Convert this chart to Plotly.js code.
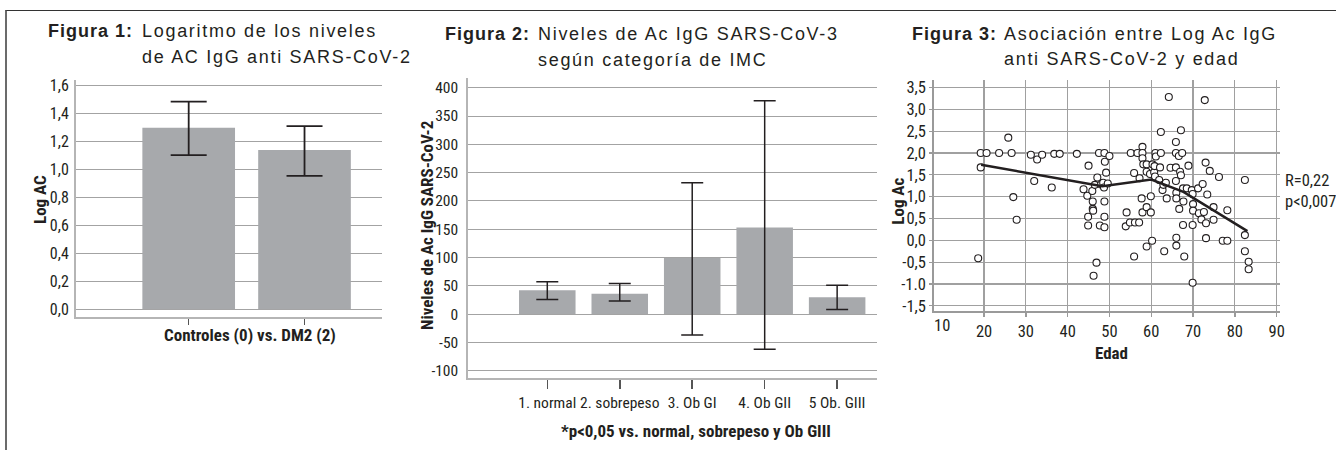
<!DOCTYPE html>
<html><head><meta charset="utf-8">
<script src="https://cdn.plot.ly/plotly-3.0.1.min.js"></script>
<style>
html,body{margin:0;padding:0;background:#fff;}
#wrap{position:relative;width:1336px;height:450px;overflow:hidden;}
#chart{position:absolute;left:0;top:0;width:1336px;height:450px;}
#frame{position:absolute;left:5px;top:10px;right:-10px;bottom:-10px;border-left:2px solid #6b6b6b;border-top:1.5px solid #333;pointer-events:none;}
</style></head>
<body><div id="wrap"><div id="chart"></div><div id="frame"></div></div>
<script>
// ---------- Figure 1 data ----------
const fig1Categories = ['Controles (0)', 'DM2 (2)'];
const fig1Values = [1.295, 1.136];
const fig1ErrPlus = [0.186, 0.171];
const fig1ErrMinus = [0.195, 0.184];
const fig1TickVals = [0, 0.2, 0.4, 0.6, 0.8, 1.0, 1.2, 1.4, 1.6];
const fig1TickText = ['0,0', '0,2', '0,4', '0,6', '0,8', '1,0', '1,2', '1,4', '1,6'];

// ---------- Figure 2 data ----------
const fig2Categories = ['1. normal', '2. sobrepeso', '3. Ob GI', '4. Ob GII', '5 Ob. GIII'];
const fig2Values = [42, 36, 99, 153, 30];
const fig2ErrPlus = [15, 18, 133, 224, 21];
const fig2ErrMinus = [16, 13, 136, 215, 22];
const fig2TickVals = [-100, -50, 0, 50, 100, 150, 200, 250, 300, 350, 400];
const fig2TickText = ['-100', '-50', '0', '50', '100', '150', '200', '250', '300', '350', '400'];

// ---------- Figure 3 data ----------
const fig3Age = [18.6,19.2,19.2,20.6,23.6,25.8,26.6,27.0,27.8,31.2,32.0,32.7,33.9,36.2,36.8,38.1,42.2,43.8,44.7,45.0,44.9,44.9,45.9,46.0,46.0,46.1,46.2,46.5,46.9,47.1,47.5,47.7,48.0,48.5,48.7,48.8,48.9,48.8,48.8,48.8,49.2,49.6,50.0,53.9,54.1,54.9,55.1,55.9,55.9,56.1,56.7,57.1,57.2,57.7,57.9,57.9,57.9,57.9,58.1,58.9,58.9,58.9,58.9,59.7,59.9,59.9,60.2,60.3,60.7,60.8,60.9,61.0,61.1,61.9,62.1,62.3,62.3,62.7,62.9,63.1,63.5,63.7,64.2,64.6,65.9,65.9,65.9,65.9,66.0,66.0,66.0,66.0,66.6,66.7,66.9,67.1,67.1,67.4,67.6,67.6,67.7,67.9,68.5,68.9,69.7,69.9,69.9,69.9,70.0,70.0,71.2,71.4,72.0,72.3,72.6,72.8,73.0,73.1,73.1,73.4,74.0,74.9,74.9,76.2,77.1,78.2,78.2,82.4,82.4,82.4,83.3,83.3];
const fig3LogAc = [-0.41,2.0,1.67,2.0,2.0,2.35,2.0,0.99,0.47,1.96,1.36,1.85,1.96,1.21,1.98,1.98,1.98,1.17,1.02,1.71,0.54,0.34,1.13,0.89,0.72,0.68,-0.81,1.27,-0.51,1.44,2.0,0.34,1.28,1.32,1.21,2.0,1.8,0.89,0.54,0.30,1.55,1.30,1.93,0.32,0.64,0.41,2.0,1.54,-0.37,0.41,2.0,0.41,1.42,0.96,0.64,2.14,2.0,1.88,1.74,1.74,1.57,0.76,-0.14,1.52,1.01,0.64,-0.01,1.74,1.56,1.70,1.46,2.0,1.92,1.38,1.67,2.48,2.0,1.15,1.27,-0.25,1.32,0.96,3.28,1.66,2.25,2.0,1.67,1.36,1.09,0.96,0.06,-0.12,1.93,0.72,1.57,2.52,1.49,2.0,0.35,1.19,0.89,-0.37,1.19,1.71,1.15,1.06,0.35,-0.97,0.83,0.68,1.19,0.62,0.48,1.29,0.65,3.21,1.78,0.39,0.05,1.05,1.59,0.76,0.47,1.45,-0.01,-0.01,0.69,1.38,0.12,-0.25,-0.49,-0.66];
const fig3FitAge = [19.3, 48.3, 60.0, 67.7, 83.0];
const fig3FitLogAc = [1.73, 1.24, 1.39, 1.11, 0.21];
const fig3XTickVals = [20, 30, 40, 50, 60, 70, 80, 90];
const fig3XTickText = ['20', '30', '40', '50', '60', '70', '80', '90'];
const fig3FirstXTick = {value: 10, text: '10'};
const fig3YTickVals = [-1.5, -1.0, -0.5, 0, 0.5, 1.0, 1.5, 2.0, 2.5, 3.0, 3.5];
const fig3YTickText = ['-1,5', '-1.0', '-0,5', '0,0', '0,5', '1,0', '1,5', '2,0', '2,5', '3,0', '3,5'];
const fig3Stats = ['R=0,22', 'p&lt;0,007'];

// ---------- fonts / layout helpers ----------
const W = 1336, H = 450;
const px = x => x / W, py = y => 1 - y / H;
const TITLE = '"Liberation Sans", Arial, Helvetica, sans-serif';
const COND = '"Roboto Condensed", "DejaVu Sans Condensed", sans-serif';
const INK = '#231f20';
const BAR = '#a7a9ac';
const GRID = '#a3a3a3';
const AXL = '#b5b5b5';

const traces = [
  {type: 'bar', x: fig1Categories, y: fig1Values, xaxis: 'x', yaxis: 'y',
   marker: {color: BAR}, width: 0.8,
   error_y: {type: 'data', symmetric: false, array: fig1ErrPlus, arrayminus: fig1ErrMinus,
             color: INK, thickness: 1.8, width: 18}, hoverinfo: 'skip'},
  {type: 'bar', x: fig2Categories, y: fig2Values, xaxis: 'x2', yaxis: 'y2',
   marker: {color: BAR}, width: 0.78,
   error_y: {type: 'data', symmetric: false, array: fig2ErrPlus, arrayminus: fig2ErrMinus,
             color: INK, thickness: 1.5, width: 11}, hoverinfo: 'skip'},
  {type: 'scatter', mode: 'markers', x: fig3Age, y: fig3LogAc, xaxis: 'x3', yaxis: 'y3',
   marker: {symbol: 'circle', size: 7, color: '#fff', line: {color: INK, width: 1.1}}, hoverinfo: 'skip'},
  {type: 'scatter', mode: 'lines', x: fig3FitAge, y: fig3FitLogAc, xaxis: 'x3', yaxis: 'y3',
   line: {color: INK, width: 2.5}, hoverinfo: 'skip'}
];

const ann = [];
const spacing = [];
function addAnn(o, ls) { spacing[ann.length] = ls || 0; ann.push(Object.assign({showarrow: false, borderpad: 0}, o)); }
function titleLine(text, xLeft, yMid, bold) {
  addAnn({text: bold ? '<b>' + text + '</b>' : text, xref: 'paper', yref: 'paper', x: px(xLeft), y: py(yMid),
    xanchor: 'left', yanchor: 'middle', align: 'left',
    font: {family: TITLE, size: 18, color: INK}}, bold ? 1 : 1.7);
}
// Titles
titleLine('Figura 1:', 47, 31.4, true);
titleLine('Logaritmo de los niveles', 141, 31.4, false);
titleLine('de AC IgG anti SARS-CoV-2', 141, 57.5, false);
titleLine('Figura 2:', 444, 33.7, true);
titleLine('Niveles de Ac IgG SARS-CoV-3', 536.5, 33.7, false);
titleLine('según categoría de IMC', 536.5, 60.4, false);
titleLine('Figura 3:', 911.5, 33.7, true);
titleLine('Asociación entre Log Ac IgG', 1002.5, 33.7, false);
titleLine('anti SARS-CoV-2 y edad', 1002.5, 58.7, false);

function axTitle(text, xc, yc, rot) {
  addAnn({text: '<b>' + text + '</b>', xref: 'paper', yref: 'paper', x: px(xc), y: py(yc),
    xanchor: 'center', yanchor: 'middle', textangle: rot ? -90 : 0,
    font: {family: COND, size: 17, color: INK}});
}
axTitle('Log AC', 40, 200, true);
axTitle('Controles (0) vs. DM2 (2)', 250, 335, false);
axTitle('Niveles de Ac IgG SARS-CoV-2', 427, 226, true);
axTitle('*p&lt;0,05 vs. normal, sobrepeso y Ob GIII', 696, 430.5, false);
axTitle('Log Ac', 898, 201.7, true);
axTitle('Edad', 1111, 353.3, false);

addAnn({text: fig3Stats[0], xref: 'paper', yref: 'paper', x: px(1284), y: py(180), xanchor: 'left', yanchor: 'middle',
  font: {family: COND, size: 16.5, color: INK}});
addAnn({text: fig3Stats[1], xref: 'paper', yref: 'paper', x: px(1284), y: py(201.7), xanchor: 'left', yanchor: 'middle',
  font: {family: COND, size: 16.5, color: INK}});
addAnn({text: fig3FirstXTick.text, xref: 'x3', yref: 'paper', x: fig3FirstXTick.value, y: py(325), xanchor: 'center', yanchor: 'middle',
  font: {family: COND, size: 16.5, color: INK}});

const baseAx = {showline: true, linecolor: AXL, linewidth: 2, zeroline: false, fixedrange: true,
  tickfont: {family: COND, size: 16, color: INK}};

const layout = {
  width: W, height: H, margin: {l: 0, r: 0, t: 0, b: 0, pad: 0},
  paper_bgcolor: 'rgba(0,0,0,0)', plot_bgcolor: 'rgba(0,0,0,0)',
  showlegend: false, bargap: 0.2,
  xaxis: Object.assign({}, baseAx, {domain: [px(76), px(382)], anchor: 'y', type: 'category',
    categoryarray: fig1Categories, range: [-0.973, 1.669], showticklabels: false,
    ticks: 'outside', ticklen: 6, tickwidth: 1.5, tickcolor: '#555', showgrid: false}),
  yaxis: Object.assign({}, baseAx, {domain: [py(316.7), py(80)], anchor: 'x',
    range: [-0.053, 1.636], tickvals: fig1TickVals, ticktext: fig1TickText,
    showgrid: true, gridcolor: GRID, gridwidth: 1, ticks: '', ticklabelstandoff: 2}),
  xaxis2: Object.assign({}, baseAx, {domain: [px(468.3), px(877)], anchor: 'y2', type: 'category',
    categoryarray: fig2Categories, range: [-1.09, 4.55], tickangle: 0,
    ticks: 'outside', ticklen: 9, tickwidth: 1.5, tickcolor: '#555', showgrid: false, ticklabelstandoff: 0,
    tickfont: {family: COND, size: 15.5, color: INK}}),
  yaxis2: Object.assign({}, baseAx, {domain: [py(378.3), py(78.3)], anchor: 'x2',
    range: [-113.4, 416.6], tickvals: fig2TickVals, ticktext: fig2TickText,
    showgrid: true, gridcolor: GRID, gridwidth: 1, ticks: '', ticklabelstandoff: 5,
    tickfont: {family: COND, size: 15.5, color: INK}}),
  xaxis3: Object.assign({}, baseAx, {domain: [px(934.3), px(1280)], anchor: 'y3',
    range: [8.1, 90.8], tickvals: fig3XTickVals, ticktext: fig3XTickText, tickangle: 0,
    showgrid: true, gridcolor: '#a0a0a0', gridwidth: 1.2, linecolor: '#9a9a9a',
    ticks: 'outside', ticklen: 4, tickcolor: '#9a9a9a', tickwidth: 1.5,
    tickfont: {family: COND, size: 16.5, color: INK}}),
  yaxis3: Object.assign({}, baseAx, {domain: [py(310.7), py(80)], anchor: 'x3',
    range: [-1.61, 3.67], tickvals: fig3YTickVals, ticktext: fig3YTickText,
    showgrid: true, gridcolor: '#a0a0a0', gridwidth: 1.2, linecolor: '#9a9a9a',
    ticks: 'outside', ticklen: 3, tickcolor: '#9a9a9a', tickwidth: 1.2,
    tickfont: {family: COND, size: 16.5, color: INK}}),
  annotations: ann
};

Plotly.newPlot('chart', traces, layout, {staticPlot: true, displayModeBar: false}).then(() => {
  document.querySelectorAll('#chart g.annotation').forEach(g => {
    const i = +g.getAttribute('data-index');
    if (spacing[i]) { const t = g.querySelector('text'); if (t) t.style.letterSpacing = spacing[i] + 'px'; }
  });
});
</script>
</body></html>
